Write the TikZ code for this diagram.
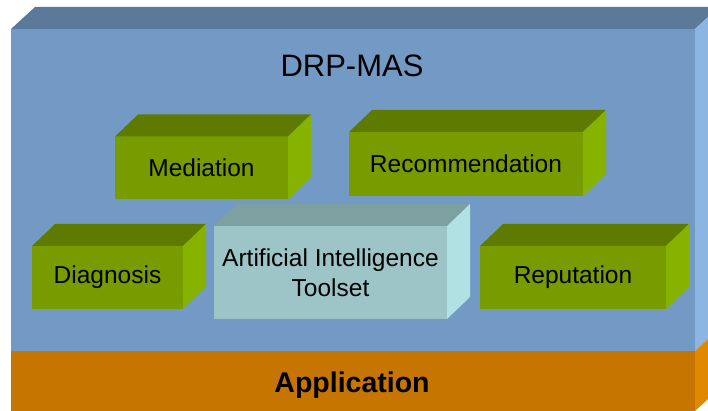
\documentclass[tikz,border=0pt]{standalone}
\usepackage{fontspec}
\setmainfont{Liberation Sans}

% face colours
\definecolor{layerfront}{HTML}{739AC5}
\definecolor{layertop}{HTML}{5B7A99}
\definecolor{layerside}{HTML}{8CB5E2}
\definecolor{appfront}{HTML}{C57500}
\definecolor{appside}{HTML}{E08900}
\definecolor{agentfront}{HTML}{789B00}
\definecolor{agenttop}{HTML}{5E7A00}
\definecolor{agentside}{HTML}{86B300}
\definecolor{toolfront}{HTML}{9DC4C6}
\definecolor{tooltop}{HTML}{7DA0A0}
\definecolor{toolside}{HTML}{B2E1E4}

\tikzset{
  face/.style={inner sep=0pt, outer sep=0pt, draw=none},
  agent/.style={face, fill=agentfront, font=\fontsize{24.5}{30}\selectfont},
  tool/.style={face, fill=toolfront, align=center, font=\fontsize{24.5}{30}\selectfont},
  title/.style={inner sep=0pt, anchor=base},
}

% depth of the small boxes
\newcommand{\bdx}{23}
\newcommand{\bdy}{-22}

% top and right faces of a box whose front face is node #1
\newcommand{\boxfaces}[3]{%
  \fill[#2] (#1.north west) -- ++(\bdx,\bdy) -- ([shift={(\bdx,\bdy)}]#1.north east) -- (#1.north east) -- cycle;
  \fill[#3] (#1.north east) -- ++(\bdx,\bdy) -- ([shift={(\bdx,\bdy)}]#1.south east) -- (#1.south east) -- cycle;
}

\begin{document}
\begin{tikzpicture}[x=1pt, y=-1pt]
  \useasboundingbox (0,0) rectangle (708,411);
  \fill[white] (0,0) rectangle (708,411);
  \clip (0,0) rectangle (708,411);

  % main slab: DRP-MAS layer on top of the application layer
  \node[face, fill=layerfront, minimum width=684pt, minimum height=322pt] (mas) at (353,190) {};
  \node[face, fill=appfront, minimum width=684pt, minimum height=60pt] (app) at (353,381) {};
  \fill[layertop] (mas.north west) -- ++(24,-22) -- ([shift={(24,-22)}]mas.north east) -- (mas.north east) -- cycle;
  \fill[layerside] (mas.north east) -- ++(24,-22) -- ([shift={(24,-22)}]mas.south east) -- (mas.south east) -- cycle;
  \fill[appside] (app.north east) -- ++(24,-22) -- ([shift={(24,-22)}]app.south east) -- (app.south east) -- cycle;

  \node[title, font=\fontsize{31}{37}\selectfont] (mastitle) at (352,77) {DRP-MAS};
  \node[title, font=\fontsize{28.5}{34}\bfseries] (apptitle) at (352,392) {Application};

  % agents and the toolset
  \node[agent, minimum width=173pt, minimum height=63pt] (med) at (201.5,168) {Mediation};
  \node[agent, minimum width=234pt, minimum height=64pt] (rec) at (466,164) {Recommendation};
  \node[agent, minimum width=151pt, minimum height=63pt] (diag) at (107.5,277.5) {Diagnosis};
  \node[agent, minimum width=186pt, minimum height=63pt] (rep) at (573,277.5) {Reputation};
  \node[tool, minimum width=233pt, minimum height=93pt] (ai) at (330.5,272.5) {Artificial Intelligence\\Toolset};

  \boxfaces{med}{agenttop}{agentside}
  \boxfaces{rec}{agenttop}{agentside}
  \boxfaces{diag}{agenttop}{agentside}
  \boxfaces{rep}{agenttop}{agentside}
  \boxfaces{ai}{tooltop}{toolside}
\end{tikzpicture}
\end{document}
